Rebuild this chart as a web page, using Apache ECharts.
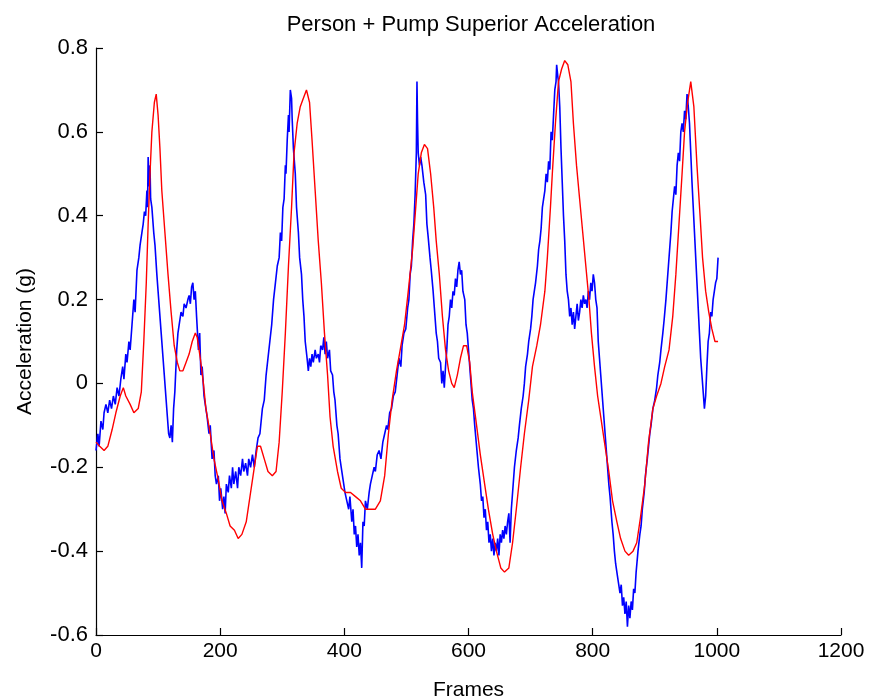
<!DOCTYPE html>
<html>
<head>
<meta charset="utf-8">
<script src="https://cdn.jsdelivr.net/npm/echarts@6/dist/echarts.min.js"></script>
<style>
html,body{margin:0;padding:0;background:#fff;}
#chart{width:869px;height:698px;}
</style>
</head>
<body>
<div id="chart"></div>
<script>
var titleText = "Person + Pump Superior Acceleration";
var xLabel = "Frames";
var yLabel = "Acceleration (g)";

var blueFrames = [0,3,5,8,11,13,16,19,22,25,28,31,34,37,40,43,45,48,50,53,55,58,61,63,66,69,71,74,76,78,80,82,83,84,85,87,88,90,
93,95,98,100,103,105,108,110,113,115,117,119,121,123,125,127,
130,132,134,137,140,142,145,148,150,152,154,156,158,160,162,
165,167,169,171,174,176,179,182,184,187,190,192,194,197,199,201,204,206,208,210,
213,215,218,220,222,225,228,230,233,236,238,241,244,246,249,252,255,258,261,264,
268,271,274,277,280,283,286,289,292,295,297,299,301,303,305,306,308,310,311,313,315,316,318,321,
323,326,328,331,333,335,337,340,342,344,346,348,350,353,355,358,360,362,365,367,369,371,373,376,378,381,383,385,
388,390,393,395,398,401,404,407,409,412,414,416,418,420,422,424,426,428,430,432,434,437,440,442,
445,448,450,453,456,459,462,465,468,470,473,476,479,482,485,488,491,493,496,499,502,504,506,508,510,512,514,515,516,517,518,519,521,523,525,
528,531,533,535,538,540,543,545,548,550,552,555,557,559,561,563,565,567,569,571,573,575,577,579,581,583,585,587,589,591,594,596,598,
601,603,606,608,610,613,616,619,621,623,625,627,629,631,633,635,637,639,641,643,645,647,649,651,653,655,657,659,661,663,665,667,669,671,
674,677,680,682,685,688,690,692,695,697,700,702,704,706,708,711,713,715,717,719,721,723,725,727,729,731,733,735,737,739,741,742,744,745,747,
749,751,753,755,757,759,761,763,765,767,769,771,773,775,777,779,781,783,785,787,789,791,793,795,797,799,801,803,805,807,809,811,
813,816,818,821,823,826,828,831,833,835,837,840,842,844,846,848,850,852,854,856,858,860,862,864,866,868,870,
873,876,878,880,883,885,888,890,892,894,897,900,903,905,908,910,913,915,918,920,922,924,926,928,930,932,934,936,938,940,942,944,946,948,950,952,954,956,
958,960,962,964,966,968,970,972,974,976,978,980,982,984,986,988,990,992,994,996,998,1000,1002];
var blueValues = [-0.16,-0.12,-0.15,-0.09,-0.11,-0.07,-0.05,-0.07,-0.04,-0.06,-0.03,-0.05,-0.01,-0.03,0.01,0.04,0.01,0.07,0.05,0.1,0.08,0.14,0.2,0.17,0.27,0.3,0.33,0.36,0.38,0.41,0.4,0.46,0.42,0.54,0.47,0.52,0.44,0.42,
0.36,0.33,0.26,0.22,0.16,0.12,0.06,0.02,-0.04,-0.08,-0.12,-0.13,-0.1,-0.14,-0.06,-0.02,
0.08,0.12,0.14,0.17,0.16,0.19,0.18,0.2,0.21,0.19,0.23,0.24,0.2,0.22,0.16,
0.08,0.12,0.02,0.04,-0.03,-0.05,-0.08,-0.12,-0.1,-0.18,-0.16,-0.22,-0.24,-0.22,-0.28,-0.25,-0.3,-0.27,-0.31,-0.24,
-0.26,-0.22,-0.25,-0.2,-0.24,-0.21,-0.25,-0.2,-0.22,-0.18,-0.21,-0.19,-0.22,-0.18,-0.2,-0.17,-0.2,-0.16,-0.13,-0.12,
-0.06,-0.04,0.02,0.06,0.1,0.14,0.2,0.24,0.28,0.3,0.36,0.34,0.42,0.44,0.52,0.5,0.58,0.64,0.6,0.7,0.68,0.63,0.56,0.5,
0.42,0.36,0.3,0.26,0.2,0.16,0.1,0.06,0.03,0.06,0.04,0.07,0.05,0.08,0.06,0.07,0.05,0.09,0.08,0.11,0.07,0.1,0.06,0.08,0.03,0.02,-0.02,-0.04,
-0.1,-0.12,-0.18,-0.2,-0.23,-0.26,-0.28,-0.3,-0.27,-0.33,-0.3,-0.36,-0.34,-0.39,-0.36,-0.41,-0.38,-0.44,-0.33,-0.34,-0.28,-0.3,-0.26,-0.24,
-0.22,-0.2,-0.21,-0.17,-0.16,-0.18,-0.14,-0.12,-0.1,-0.11,-0.07,-0.06,-0.03,-0.02,0.02,0.06,0.04,0.09,0.12,0.13,0.18,0.2,0.26,0.28,0.34,0.38,0.45,0.5,0.55,0.72,0.62,0.55,0.52,0.54,0.52,
0.48,0.45,0.38,0.35,0.3,0.27,0.22,0.18,0.12,0.1,0.06,0.05,0.0,0.03,-0.01,0.04,0.08,0.14,0.16,0.2,0.18,0.22,0.21,0.25,0.23,0.27,0.29,0.26,0.27,0.22,0.2,0.14,0.12,
0.06,0.02,-0.04,-0.06,-0.1,-0.15,-0.2,-0.24,-0.28,-0.27,-0.32,-0.3,-0.35,-0.33,-0.38,-0.36,-0.4,-0.37,-0.41,-0.38,-0.4,-0.37,-0.41,-0.36,-0.38,-0.35,-0.37,-0.34,-0.36,-0.33,-0.31,-0.38,-0.3,-0.26,
-0.2,-0.16,-0.13,-0.1,-0.06,-0.03,0.0,0.04,0.07,0.1,0.13,0.16,0.2,0.22,0.24,0.28,0.32,0.34,0.37,0.42,0.44,0.46,0.5,0.48,0.53,0.51,0.6,0.58,0.64,0.7,0.72,0.76,0.73,0.72,0.66,
0.56,0.48,0.4,0.34,0.26,0.22,0.2,0.16,0.18,0.14,0.17,0.13,0.16,0.19,0.15,0.17,0.2,0.18,0.21,0.19,0.2,0.18,0.22,0.2,0.24,0.22,0.26,0.24,0.2,0.18,0.1,0.06,
0.02,-0.04,-0.08,-0.14,-0.18,-0.24,-0.27,-0.33,-0.36,-0.4,-0.43,-0.46,-0.48,-0.5,-0.48,-0.53,-0.51,-0.55,-0.52,-0.58,-0.53,-0.56,-0.52,-0.54,-0.49,-0.5,-0.45,
-0.4,-0.36,-0.34,-0.3,-0.26,-0.22,-0.18,-0.15,-0.12,-0.1,-0.06,-0.04,-0.01,0.02,0.05,0.08,0.12,0.15,0.2,0.24,0.28,0.32,0.36,0.41,0.44,0.47,0.45,0.52,0.55,0.53,0.6,0.62,0.6,0.65,0.63,0.69,0.66,0.62,
0.55,0.48,0.42,0.36,0.3,0.24,0.18,0.12,0.06,0.02,-0.02,-0.06,-0.03,0.04,0.1,0.12,0.17,0.16,0.2,0.2,0.24,0.25,0.3];

var redFrames = [0,6,13,19,26,32,39,44,48,55,61,68,73,77,81,84,87,90,94,97,100,103,106,111,116,121,126,131,135,140,145,150,155,160,163,168,173,177,184,190,197,203,210,216,223,229,235,242,248,255,260,265,271,277,284,290,295,300,305,310,315,319,324,329,334,339,344,348,353,358,363,368,373,377,382,389,395,402,410,418,426,434,442,450,458,465,471,477,484,490,497,503,510,515,519,524,529,534,539,544,548,553,558,563,568,573,577,582,587,592,597,602,606,613,619,626,632,639,645,652,658,665,671,677,684,690,697,703,710,716,723,727,732,735,740,745,750,755,760,765,769,774,779,784,789,794,798,803,808,813,819,826,832,839,845,852,858,865,871,877,884,890,897,903,910,916,923,929,934,939,944,948,953,958,963,968,973,977,982,987,992,997,1002];
var redValues = [-0.14,-0.15,-0.16,-0.15,-0.11,-0.07,-0.03,-0.01,-0.03,-0.05,-0.07,-0.06,-0.02,0.1,0.24,0.38,0.5,0.6,0.67,0.69,0.64,0.56,0.46,0.36,0.26,0.17,0.09,0.05,0.03,0.03,0.05,0.07,0.1,0.12,0.11,0.06,0.0,-0.06,-0.12,-0.18,-0.23,-0.28,-0.31,-0.34,-0.35,-0.37,-0.36,-0.33,-0.27,-0.2,-0.15,-0.15,-0.18,-0.21,-0.22,-0.21,-0.14,-0.02,0.12,0.28,0.42,0.55,0.62,0.66,0.68,0.7,0.67,0.58,0.46,0.34,0.24,0.12,0.02,-0.08,-0.15,-0.21,-0.25,-0.26,-0.26,-0.27,-0.28,-0.3,-0.3,-0.3,-0.28,-0.22,-0.12,-0.04,0.03,0.08,0.14,0.22,0.32,0.42,0.5,0.55,0.57,0.56,0.5,0.42,0.34,0.26,0.16,0.08,0.03,0.0,-0.01,0.02,0.06,0.09,0.09,0.05,-0.02,-0.1,-0.17,-0.24,-0.3,-0.36,-0.4,-0.44,-0.45,-0.44,-0.38,-0.3,-0.2,-0.12,-0.04,0.04,0.09,0.14,0.22,0.3,0.42,0.5,0.62,0.72,0.75,0.77,0.76,0.72,0.62,0.52,0.44,0.36,0.28,0.2,0.12,0.04,-0.03,-0.08,-0.14,-0.21,-0.28,-0.33,-0.37,-0.4,-0.41,-0.4,-0.38,-0.32,-0.24,-0.14,-0.06,-0.03,0.0,0.04,0.08,0.16,0.26,0.38,0.5,0.6,0.67,0.72,0.66,0.52,0.4,0.3,0.22,0.17,0.13,0.1,0.1];

var xTicks = {min:0, max:1200, interval:200};
var yTicks = {min:-0.6, max:0.8, interval:0.2};

function pairs(xs, ys){ return xs.map(function(x,i){ return [x, ys[i]]; }); }

var FONT = "'Liberation Sans', Arial, sans-serif";
var chart = echarts.init(document.getElementById('chart'), null, {renderer:'canvas'});
chart.setOption({
  backgroundColor:'#ffffff',
  animation:false,
  title:{
    text:titleText, left:466, top:9, textAlign:'center',
    textStyle:{fontFamily:FONT, fontSize:22, fontWeight:'normal', color:'#000'}
  },
  grid:{left:96, right:28, top:48, bottom:63, containLabel:false, outerBoundsMode:'none'},
  xAxis:{
    type:'value', min:xTicks.min, max:xTicks.max, interval:xTicks.interval,
    name:xLabel, nameLocation:'middle', nameGap:45,
    nameTextStyle:{fontFamily:FONT, fontSize:21, color:'#000'},
    axisLine:{show:true, onZero:false, lineStyle:{color:'#000', width:1.2}},
    axisTick:{show:true, inside:true, length:7, lineStyle:{color:'#000', width:1.2}},
    axisLabel:{fontFamily:FONT, fontSize:21, color:'#000', margin:6,
      formatter:function(v){ return String(v); }},
    splitLine:{show:false}
  },
  yAxis:{
    type:'value', min:yTicks.min, max:yTicks.max, interval:yTicks.interval,
    name:yLabel, nameLocation:'middle', nameGap:60, nameRotate:90,
    nameTextStyle:{fontFamily:FONT, fontSize:21, color:'#000'},
    axisLine:{show:true, onZero:false, lineStyle:{color:'#000', width:1.2}},
    axisTick:{show:true, inside:true, length:7, lineStyle:{color:'#000', width:1.2}},
    axisLabel:{fontFamily:FONT, fontSize:22, color:'#000', margin:8,
      formatter:function(v){ var r=Math.round(v*10)/10; return r===0?'0':String(r); }},
    splitLine:{show:false}
  },
  series:[
    {type:'line', data:pairs(blueFrames, blueValues), showSymbol:false, symbol:'none',
     lineStyle:{color:'#0000ff', width:1.6}, z:2},
    {type:'line', data:pairs(redFrames, redValues), showSymbol:false, symbol:'none',
     lineStyle:{color:'#ff0000', width:1.4}, z:3}
  ]
});
</script>
</body>
</html>
